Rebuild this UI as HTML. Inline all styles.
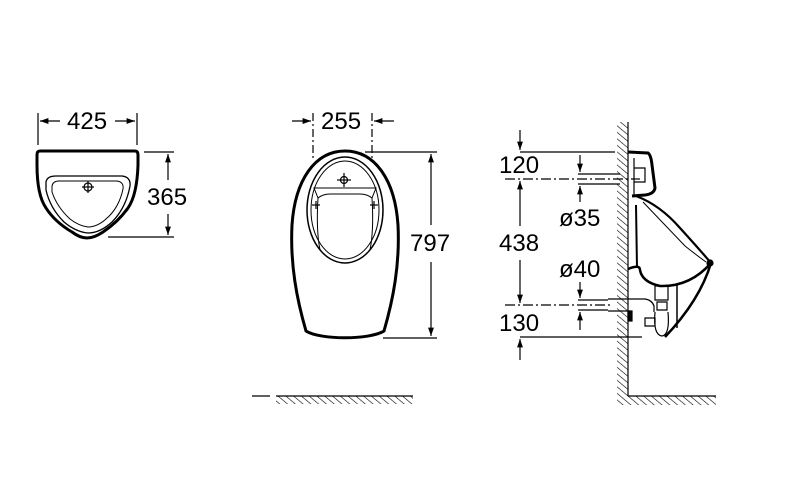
<!DOCTYPE html>
<html><head><meta charset="utf-8"><style>
html,body{margin:0;padding:0;background:#fff}
svg{display:block}
text{font-family:"Liberation Sans",Arial,sans-serif;font-size:24px;fill:#000}
</style></head><body>
<svg width="800" height="480" viewBox="0 0 800 480" xmlns="http://www.w3.org/2000/svg">
<defs>
<marker id="a" viewBox="0 0 10 10" refX="10" refY="5" markerWidth="7" markerHeight="7" orient="auto-start-reverse"><path d="M0,1.5 L10,5 L0,8.5 Z" fill="#000"/></marker>
<pattern id="h" width="5" height="5" patternUnits="userSpaceOnUse" patternTransform="rotate(-50)"><line x1="0" y1="0" x2="0" y2="5" stroke="#000" stroke-width="1.2"/></pattern>
</defs>
<g stroke="#000" fill="none" stroke-width="1.2">
<!-- LEFT top view -->
<line x1="38" y1="113" x2="38" y2="145"/><line x1="137" y1="113" x2="137" y2="145"/>
<line x1="60" y1="121" x2="40" y2="121" marker-end="url(#a)"/>
<line x1="115" y1="121" x2="135" y2="121" marker-end="url(#a)"/>
<path d="M40,151 L135,151 Q138,151 138,155 L138,165 Q137,195 128,208 Q118,222 103,232 Q94,238 87,238 Q80,238 72,232 Q55,222 46,208 Q37,195 37,165 L37,155 Q37,151 40,151 Z" stroke-width="3"/>
<path d="M46,182 Q47,176 56,176 L122,176 Q131,177 130,186 Q126,208 112,222 Q100,233 88,233 Q76,232 64,222 Q50,208 46,190 Z" stroke-width="1.3"/>
<path d="M52,186 Q53,181 59,181 L117,181 Q124,182 123,189 Q119,208 106,219 Q97,227 88,227 Q79,226 70,219 Q57,207 52,192 Z" stroke-width="1"/>
<circle cx="88" cy="187" r="4"/><line x1="88" y1="181" x2="88" y2="193"/><line x1="82" y1="187" x2="94" y2="187"/>
<line x1="144" y1="152" x2="174" y2="152"/><line x1="108" y1="237" x2="174" y2="237"/>
<line x1="168" y1="180" x2="168" y2="154" marker-end="url(#a)"/>
<line x1="168" y1="214" x2="168" y2="235" marker-end="url(#a)"/>
<!-- FRONT view -->
<line x1="313" y1="113" x2="313" y2="158" stroke-dasharray="8,3,2,3"/>
<line x1="372" y1="113" x2="372" y2="158" stroke-dasharray="8,3,2,3"/>
<line x1="292" y1="121" x2="311" y2="121" marker-end="url(#a)"/>
<line x1="394" y1="121" x2="374" y2="121" marker-end="url(#a)"/>
<path d="M345,151 C375,151 395,180 398,225 C400,265 393,300 384,331 C370,340 320,340 306,331 C297,300 290,265 292,225 C295,180 315,151 345,151 Z" stroke-width="3"/>
<ellipse cx="345" cy="210" rx="38" ry="53" stroke-width="1.5"/>
<ellipse cx="345" cy="210" rx="34" ry="49" stroke-width="1"/>
<path d="M314,188 L376,188 L372,198 Q367,194 360,194 L330,194 Q323,194 318,198 Z" stroke-width="1"/>
<path d="M318,198 Q316,230 320,250 M372,198 Q374,230 370,250" stroke-width="1"/>
<circle cx="344" cy="180" r="3.5"/><line x1="344" y1="173" x2="344" y2="187"/><line x1="337" y1="180" x2="351" y2="180"/>
<line x1="316" y1="201" x2="316" y2="209"/><line x1="312" y1="205" x2="320" y2="205"/>
<line x1="374" y1="201" x2="374" y2="209"/><line x1="370" y1="205" x2="378" y2="205"/>
<line x1="365" y1="152" x2="437" y2="152"/><line x1="383" y1="338" x2="437" y2="338"/>
<line x1="431" y1="225" x2="431" y2="154" marker-end="url(#a)"/>
<line x1="431" y1="262" x2="431" y2="336" marker-end="url(#a)"/>
<line x1="252" y1="396" x2="270" y2="396"/>
</g>
<rect x="276" y="396" width="137" height="8" fill="url(#h)"/>
<line x1="276" y1="396" x2="413" y2="396" stroke="#000" stroke-width="1.2"/>
<!-- SIDE view -->
<rect x="617" y="122" width="11" height="274" fill="url(#h)"/>
<rect x="617" y="396" width="99" height="9" fill="url(#h)"/>
<g stroke="#000" fill="none" stroke-width="1.2">
<line x1="628" y1="122" x2="628" y2="396"/><line x1="628" y1="396" x2="716" y2="396"/>
<line x1="520" y1="130" x2="520" y2="150" marker-end="url(#a)"/>
<line x1="520" y1="152" x2="615" y2="152"/>
<line x1="505" y1="179" x2="640" y2="179" stroke-dasharray="10,3,2,3"/>
<line x1="520" y1="226" x2="520" y2="181" marker-end="url(#a)"/>
<line x1="520" y1="260" x2="520" y2="303" marker-end="url(#a)"/>
<line x1="505" y1="305" x2="610" y2="305" stroke-dasharray="10,3,2,3"/>
<line x1="520" y1="337" x2="642" y2="337"/>
<line x1="520" y1="360" x2="520" y2="339" marker-end="url(#a)"/>
<line x1="578" y1="174" x2="620" y2="174"/><line x1="578" y1="184" x2="620" y2="184"/>
<line x1="580" y1="155" x2="580" y2="172" marker-end="url(#a)"/>
<line x1="580" y1="202" x2="580" y2="186" marker-end="url(#a)"/>
<line x1="578" y1="300" x2="608" y2="300"/><line x1="578" y1="310" x2="608" y2="310"/>
<line x1="580" y1="282" x2="580" y2="298" marker-end="url(#a)"/>
<line x1="580" y1="330" x2="580" y2="312" marker-end="url(#a)"/>
<path d="M608,299 L645,299 Q652,300 654,306 L654,312 M608,311 L630,311" stroke-width="1.2"/>
<!-- urinal -->
<path d="M628,152 L648,153 Q651,155 652,165 L655,188 Q654,194 645,195 L632,196" stroke-width="3"/>
<path d="M634,158 L634,196 M634,168 L645,168 L645,182 L634,182" stroke-width="1.2"/>
<path d="M636,196 Q660,205 680,228 Q700,250 711,263" stroke-width="2.2"/>
<path d="M643,202 Q665,225 685,246 Q695,254 706,262" stroke-width="1"/>
<path d="M636,205 L637,268" stroke-width="2"/>
<path d="M628,269 Q640,264 640,270 Q642,282 660,286 Q690,287 711,263" stroke-width="2.5"/>
<circle cx="710" cy="263" r="3" fill="#000"/>
<path d="M711,263 Q700,300 665,337" stroke-width="2.5"/>
<line x1="677" y1="285" x2="677" y2="328" stroke-width="1.5"/>
<path d="M655,286 L668,286 L668,300 L655,300 Z M657,302 L667,302 L667,310 L657,310 Z" stroke-width="1.2"/>
<path d="M645,318 L655,318 L655,326 L645,326 Z M655,312 Q653,335 662,336 Q670,335 668,312" stroke-width="1.2"/>
<rect x="628" y="311" width="4" height="10" fill="#000"/>
</g>
<g>
<text x="67" y="129">425</text>
<text x="147" y="205">365</text>
<text x="321" y="129">255</text>
<rect x="411" y="228" width="46" height="28" fill="#fff"/>
<text x="410" y="251">797</text>
<text x="499" y="173">120</text>
<text x="499" y="251">438</text>
<text x="499" y="331">130</text>
<text x="559" y="226">ø35</text>
<text x="559" y="277">ø40</text>
</g>
</svg>
</body></html>
